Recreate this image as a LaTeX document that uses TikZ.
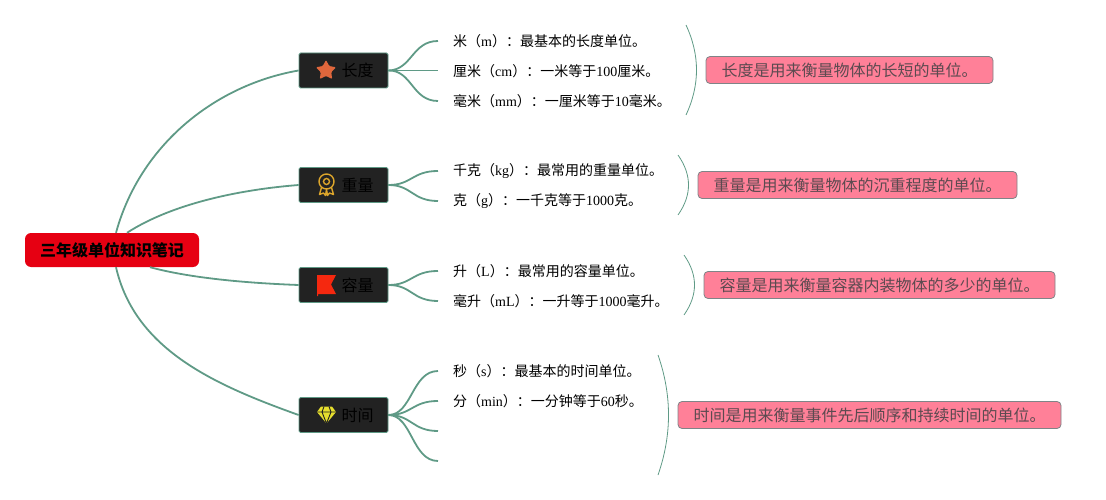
\documentclass[tikz,border=0pt]{standalone}
\usepackage{fontspec}
\setmainfont{Liberation Serif}
\newfontfamily\cjk{Noto Sans CJK SC}
\newcommand{\zh}[1]{{\cjk #1}}
\usepackage{tikz}
\usetikzlibrary{shapes.geometric, positioning}
\definecolor{linegreen}{HTML}{5F9A86}
\definecolor{boxdark}{HTML}{222222}
\definecolor{rootred}{HTML}{E60012}
\definecolor{notepink}{HTML}{FF8098}
\definecolor{noteedge}{HTML}{7F8487}
\definecolor{notetext}{HTML}{5C4A50}
\definecolor{starorange}{HTML}{E0673C}
\definecolor{medalgold}{HTML}{DDA62B}
\definecolor{flagred}{HTML}{F5280F}
\definecolor{gemyellow}{HTML}{E6DE2E}

\begin{document}
\begin{tikzpicture}[
    x=1pt, y=-1pt,
    rootnode/.style={rectangle, fill=rootred, rounded corners=6pt, minimum height=34pt, minimum width=174pt, inner sep=0pt, font=\fontsize{16}{16}\selectfont\bfseries},
    branchnode/.style={rectangle, draw=linegreen, line width=0.8pt, fill=boxdark, rounded corners=1.5pt, minimum height=35pt, minimum width=89pt, inner sep=0pt},
    branchlabel/.style={right=-2pt of #1.center, inner sep=0pt, text=black, font=\fontsize{16}{16}\selectfont},
    leafnode/.style={anchor=west, inner xsep=15pt, inner ysep=0pt, font=\fontsize{14}{14}\selectfont},
    notenode/.style={rectangle, draw=noteedge, line width=0.8pt, fill=notepink, rounded corners=4pt, minimum height=27pt, inner sep=0pt, text=notetext, font=\fontsize{16}{16}\selectfont},
    link/.style={linegreen, line width=1.8pt},
    bracket/.style={linegreen, line width=0.8pt}
]
\useasboundingbox (0,0) rectangle (1106,500);

% centre and branches
\node[rootnode] (root) at (112,250) {\zh{三年级单位知识笔记}};
\node[branchnode] (length) at (343.5,70.5) {};
\node[branchnode] (weight) at (343.5,185) {};
\node[branchnode] (volume) at (343.5,285) {};
\node[branchnode] (time) at (343.5,415) {};

\node[branchlabel=length] (lengthtext) {\zh{长度}};
\node[branchlabel=weight] (weighttext) {\zh{重量}};
\node[branchlabel=volume] (volumetext) {\zh{容量}};
\node[branchlabel=time] (timetext) {\zh{时间}};

% leaves
\node[leafnode] (m) at (438,41) {\zh{米（}m\zh{）：最基本的长度单位。}};
\node[leafnode] (cm) at (438,71) {\zh{厘米（}cm\zh{）：一米等于}100\zh{厘米。}};
\node[leafnode] (mm) at (438,101) {\zh{毫米（}mm\zh{）：一厘米等于}10\zh{毫米。}};
\node[leafnode] (kg) at (438,171) {\zh{千克（}kg\zh{）：最常用的重量单位。}};
\node[leafnode] (g) at (438,201) {\zh{克（}g\zh{）：一千克等于}1000\zh{克。}};
\node[leafnode] (L) at (438,271) {\zh{升（}L\zh{）：最常用的容量单位。}};
\node[leafnode] (mL) at (438,301) {\zh{毫升（}mL\zh{）：一升等于}1000\zh{毫升。}};
\node[leafnode] (s) at (438,371) {\zh{秒（}s\zh{）：最基本的时间单位。}};
\node[leafnode] (min) at (438,401) {\zh{分（}min\zh{）：一分钟等于}60\zh{秒。}};
\coordinate (blanka) at (438,431);
\coordinate (blankb) at (438,461);

% notes
\node[notenode, minimum width=287pt] (lengthnote) at (849.5,70) {\zh{长度是用来衡量物体的长短的单位。}};
\node[notenode, minimum width=319pt] (weightnote) at (857.5,185) {\zh{重量是用来衡量物体的沉重程度的单位。}};
\node[notenode, minimum width=351pt] (volumenote) at (879.5,285) {\zh{容量是用来衡量容器内装物体的多少的单位。}};
\node[notenode, minimum width=383pt] (timenote) at (869.5,415) {\zh{时间是用来衡量事件先后顺序和持续时间的单位。}};

% links from the centre
\draw[link] ([xshift=4pt]root.north) .. controls (140,145) and (215,85) .. (length.west);
\draw[link] ([xshift=15pt]root.north) .. controls (170,205) and (235,190) .. (weight.west);
\draw[link] ([xshift=38pt]root.south) .. controls (190,278) and (245,283) .. (volume.west);
\draw[link] ([xshift=4pt]root.south) .. controls (135,350) and (215,385) .. (time.west);

% links to the leaves
\draw[link] (length.east) .. controls (412,70) and (412,41) .. (m.west);
\draw[link] (length.east) -- (cm.west |- length.east);
\draw[link] (length.east) .. controls (412,70) and (412,101) .. (mm.west);
\draw[link] (weight.east) .. controls (412,185) and (412,171) .. (kg.west);
\draw[link] (weight.east) .. controls (412,185) and (412,201) .. (g.west);
\draw[link] (volume.east) .. controls (412,285) and (412,271) .. (L.west);
\draw[link] (volume.east) .. controls (412,285) and (412,301) .. (mL.west);
\draw[link] (time.east) .. controls (412,415) and (412,371) .. (s.west);
\draw[link] (time.east) .. controls (412,415) and (412,401) .. (min.west);
\draw[link] (time.east) .. controls (412,415) and (412,431) .. (blanka);
\draw[link] (time.east) .. controls (412,415) and (412,461) .. (blankb);

% brackets
\coordinate (lengthtop) at (686,25);
\coordinate (lengthbot) at (686,115);
\coordinate (weighttop) at (678,155);
\coordinate (weightbot) at (678,215);
\coordinate (volumetop) at (684,255);
\coordinate (volumebot) at (684,315);
\coordinate (timetop) at (658,355);
\coordinate (timebot) at (658,475);
\draw[bracket] (lengthtop) .. controls (700,55) and (700,85) .. (lengthbot);
\draw[bracket] (weighttop) .. controls (692,175) and (692,195) .. (weightbot);
\draw[bracket] (volumetop) .. controls (698,275) and (698,295) .. (volumebot);
\draw[bracket] (timetop) .. controls (672,395) and (672,435) .. (timebot);

% icons
\node[star, star points=5, star point ratio=1.9, fill=starorange, rounded corners=1pt, inner sep=0pt, minimum size=21pt] (staricon) at (326,70.5) {};
\begin{scope}[shift={(326.5,184.5)}, medalgold, line width=1.4pt]
\draw (0,-3) circle (7.5pt);
\draw (0,-3) circle (3pt);
\draw[line join=round] (-5,3) -- (-7,10) -- (-3,8.5) -- (-1,11) -- (0,5) -- (1,11) -- (3,8.5) -- (7,10) -- (5,3);
\end{scope}
\fill[flagred] (317,275) -- (336,275) -- (331,284.5) -- (336,294) -- (318,294) -- (318,296) -- (317,296) -- cycle;
\begin{scope}[shift={(326.5,415)}, line width=0.9pt]
\fill[gemyellow] (-5.5,-8.5) -- (5.5,-8.5) -- (9.5,-3) -- (0,8.5) -- (-9.5,-3) -- cycle;
\draw[boxdark] (-9.5,-3) -- (9.5,-3) (-2.5,-8.5) -- (-4.5,-3) -- (0,8.5) -- (4.5,-3) -- (2.5,-8.5);
\end{scope}
\end{tikzpicture}
\end{document}
